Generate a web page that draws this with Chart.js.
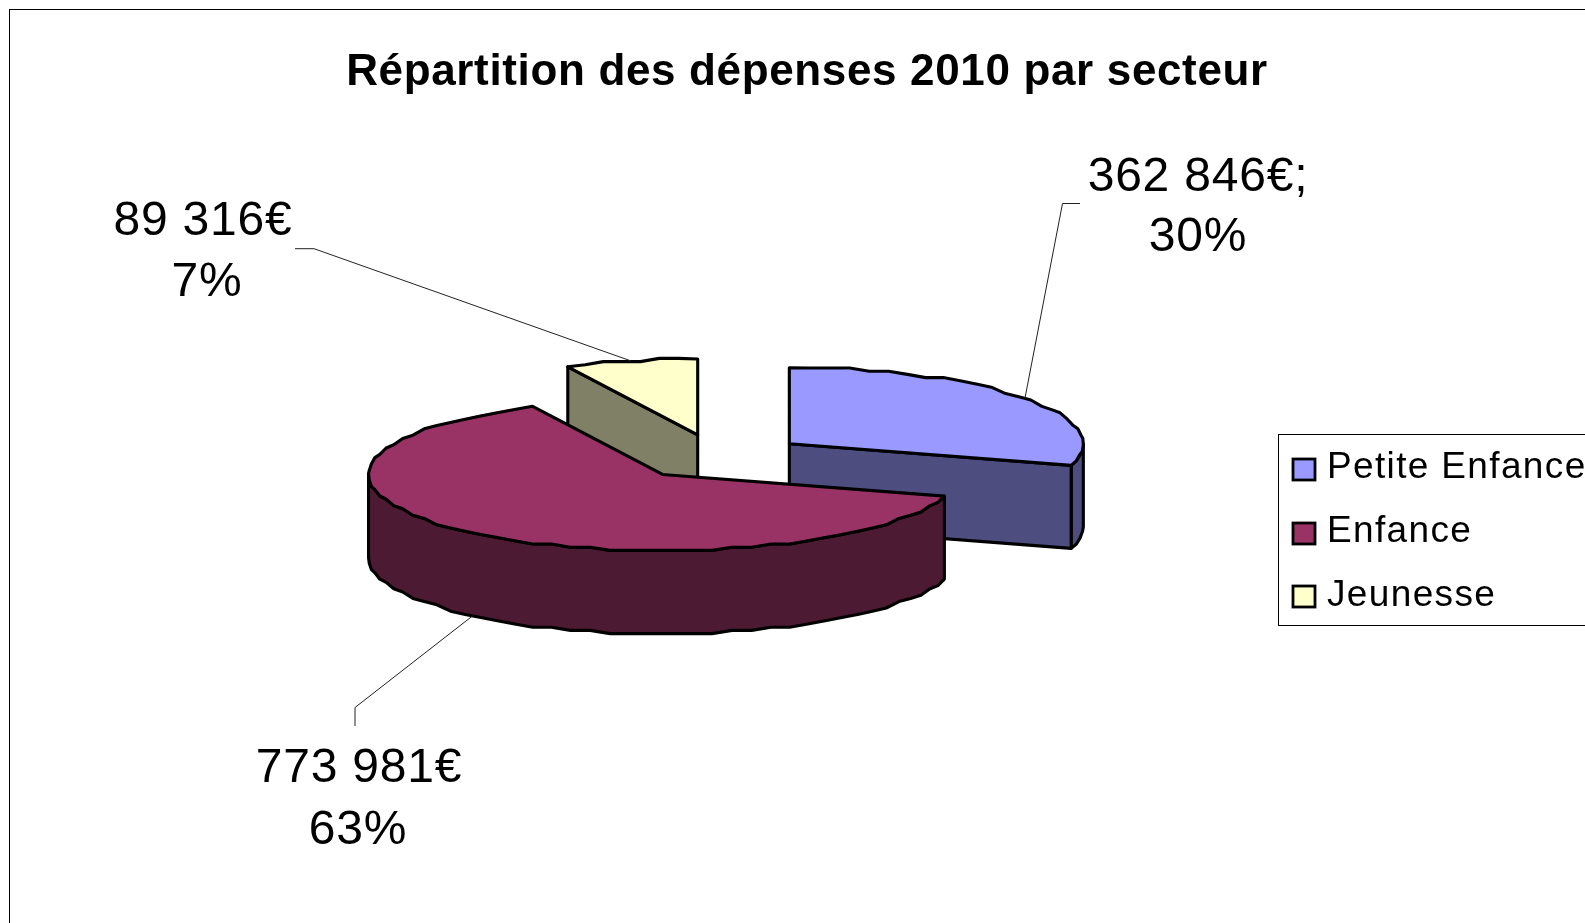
<!DOCTYPE html>
<html lang="fr">
<head>
<meta charset="utf-8">
<title>Répartition des dépenses 2010 par secteur</title>
<style>html,body{margin:0;padding:0;background:#fff;overflow:hidden}canvas{display:block}</style>
<script src="https://cdn.jsdelivr.net/npm/chart.js@4/dist/chart.umd.min.js"></script>
</head>
<body>
<canvas id="c" width="1585" height="923"></canvas>
<script>
const titleText = 'Répartition des dépenses 2010 par secteur';
const categories = ['Petite Enfance', 'Enfance', 'Jeunesse'];
const values = [362846, 773981, 89316];
const valueLabels = ['362 846€;', '773 981€', '89 316€'];
const percentLabels = ['30%', '63%', '7%'];
const topColors = ['#9999FF', '#993366', '#FFFFCC'];
const sideColors = ['#4D4D80', '#4D1A33', '#808066'];
const explodePx = [89, 86, 89.5];

// view of the tilted pie
const RADIUS = 294, TILT = 76 / 294, DEPTH = 83;
const VIEW_X = 718, VIEW_Y = 457.5;
const FONT = '"Liberation Sans", Arial, sans-serif';
const OUTLINE = 3.1, STEP_DEG = 4, GRID_Y = 3.2;

// data label layout: centre x of both lines, baselines, leader path from text, depth flag
const labelLayout = [
  {x1: 1198, x2: 1198, y1: 190.5, y2: 251, leader: [[1080, 203.5], [1062.5, 203.5]], bottom: false},
  {x1: 359, x2: 358, y1: 782, y2: 844, leader: [[355, 726], [355, 707.5]], bottom: true},
  {x1: 203, x2: 207, y1: 235, y2: 296, leader: [[295, 248.7], [314, 248.7]], bottom: false}
];
const legendBox = {x: 1278.5, y: 434.5, h: 191, swatchX: 1293, swatchW: 22, swatchH: 21, textX: 1327,
  swatchY: [459, 523, 586], baseY: [478, 542, 606]};

function fix(c) { return 1 - Math.sin(Math.min(Math.PI, c)); }
function midAngle(el) { return (el.startAngle + el.endAngle) / 2; }
function fromAngle(el) { return midAngle(el) - el.circumference / 2; }
function toAngle(el) { return midAngle(el) + el.circumference / 2; }
function project(el, ang, r, dz) {
  const o = el.options.offset / 4;
  const h = midAngle(el);
  return [VIEW_X + Math.cos(h) * o + (r * Math.cos(ang)),
          VIEW_Y + TILT * (Math.sin(h) * o + r * Math.sin(ang)) + (dz || 0)];
}
function rimPoints(el, a0, a1, dz) {
  const pts = [];
  const step = STEP_DEG * Math.PI / 180;
  const n = Math.max(1, Math.round((a1 - a0) / step));
  for (let i = 0; i <= n; i++) {
    const p = project(el, a0 + (a1 - a0) * i / n, RADIUS, dz);
    if (i > 0 && i < n) p[1] = Math.round(p[1] / GRID_Y) * GRID_Y;
    pts.push(p);
  }
  return pts;
}
function poly(ctx, pts, fill) {
  ctx.beginPath();
  pts.forEach((p, i) => i ? ctx.lineTo(p[0], p[1]) : ctx.moveTo(p[0], p[1]));
  ctx.closePath();
  if (fill) { ctx.fillStyle = fill; ctx.fill(); }
  ctx.stroke();
}
function inkStyle(ctx) {
  ctx.strokeStyle = '#000'; ctx.lineWidth = OUTLINE; ctx.lineJoin = 'round';
}
function wallsOf(ctx, el, i) {
  const s = fromAngle(el), e = toAngle(el), col = sideColors[i];
  // outer wall: the part of the rim turned to the viewer
  const turns = [0, 2 * Math.PI];
  for (const t of turns) {
    const a0 = Math.max(s, t), a1 = Math.min(e, t + Math.PI);
    if (a1 > a0) {
      const up = rimPoints(el, a0, a1, 0), dn = rimPoints(el, a0, a1, DEPTH).reverse();
      poly(ctx, up.concat(dn), col);
    }
  }
  const c = project(el, 0, 0, 0), cd = project(el, 0, 0, DEPTH);
  if (Math.cos(s) < -1e-6) poly(ctx, [c, project(el, s, RADIUS, 0), project(el, s, RADIUS, DEPTH), cd], col);
  if (Math.cos(e) > 1e-6) poly(ctx, [c, project(el, e, RADIUS, 0), project(el, e, RADIUS, DEPTH), cd], col);
}

const tiltedPie = {
  id: 'tiltedPie',
  beforeDraw(chart) {
    const ctx = chart.ctx;
    ctx.save(); ctx.fillStyle = '#fff'; ctx.fillRect(0, 0, chart.width, chart.height);
    ctx.strokeStyle = '#000'; ctx.lineWidth = 1;
    ctx.strokeRect(9.5, 9.5, chart.width + 50, chart.height + 50);
    ctx.restore();
    ctx.letterSpacing = '0.65px';
  },
  afterDatasetsUpdate(chart) {
    chart.getDatasetMeta(0).data.forEach(el => {
      // an offset arc grows its radius and trims its angle when drawn: hold both at their true values
      const grown = (el.options.offset / 4) * fix(el.circumference);
      const trim = grown / (2 * Math.PI * RADIUS);
      el.outerRadius = RADIUS - grown;
      el.startAngle -= trim;
      el.endAngle += trim;
    });
  },
  beforeDatasetsDraw(chart) {
    const ctx = chart.ctx, arcs = chart.getDatasetMeta(0).data;
    ctx.letterSpacing = '0px';
    ctx.save(); inkStyle(ctx);
    [2, 0, 1].forEach(i => wallsOf(ctx, arcs[i], i));
    ctx.restore();
    ctx.save();
    ctx.translate(VIEW_X, VIEW_Y); ctx.scale(1, TILT); ctx.translate(-arcs[0].x, -arcs[0].y);
  },
  afterDatasetsDraw(chart) {
    const ctx = chart.ctx, arcs = chart.getDatasetMeta(0).data;
    ctx.restore();
    ctx.save(); inkStyle(ctx);
    [2, 0, 1].forEach(i => {
      const el = arcs[i];
      poly(ctx, [project(el, 0, 0, 0)].concat(rimPoints(el, fromAngle(el), toAngle(el), 0)));
    });
    ctx.restore();

    // leaders and data labels
    ctx.save();
    ctx.textAlign = 'center'; ctx.textBaseline = 'alphabetic'; ctx.fillStyle = '#000';
    arcs.forEach((el, i) => {
      const L = labelLayout[i];
      const end = project(el, midAngle(el), RADIUS, L.bottom ? DEPTH : 0);
      ctx.beginPath(); ctx.strokeStyle = '#222'; ctx.lineWidth = 1;
      L.leader.forEach((p, j) => j ? ctx.lineTo(p[0], p[1]) : ctx.moveTo(p[0], p[1]));
      ctx.lineTo(end[0], end[1]); ctx.stroke();
      ctx.font = '48px ' + FONT;
      ctx.letterSpacing = '0.8px';
      ctx.fillText(valueLabels[i], L.x1, L.y1);
      ctx.fillText(percentLabels[i], L.x2, L.y2);
    });
    ctx.restore();

    // legend
    const B = legendBox;
    ctx.save();
    ctx.strokeStyle = '#000'; ctx.lineWidth = 1;
    ctx.strokeRect(B.x, B.y, chart.width + 50 - B.x, B.h);
    ctx.font = '37px ' + FONT; ctx.fillStyle = '#000'; ctx.letterSpacing = '1.35px';
    categories.forEach((name, i) => {
      ctx.lineWidth = 2.8; ctx.fillStyle = topColors[i];
      ctx.fillRect(B.swatchX, B.swatchY[i], B.swatchW, B.swatchH);
      ctx.strokeRect(B.swatchX, B.swatchY[i], B.swatchW, B.swatchH);
      ctx.fillStyle = '#000';
      ctx.fillText(name, B.textX, B.baseY[i]);
    });
    ctx.restore();
  }
};

new Chart(document.getElementById('c'), {
  type: 'pie',
  plugins: [tiltedPie],
  data: {
    labels: categories,
    datasets: [{
      data: values,
      backgroundColor: topColors,
      borderWidth: 0,
      offset: explodePx.map(v => v * 4),
      clip: false
    }]
  },
  options: {
    responsive: false,
    animation: false,
    events: [],
    radius: RADIUS,
    layout: {padding: {left: 29}},
    plugins: {
      legend: {display: false},
      tooltip: {enabled: false},
      title: {
        display: true,
        text: titleText,
        color: '#000',
        font: {family: FONT, size: 44, weight: 'bold', lineHeight: 1.2},
        padding: {top: 46, bottom: 10}
      }
    }
  }
});
</script>
</body>
</html>
